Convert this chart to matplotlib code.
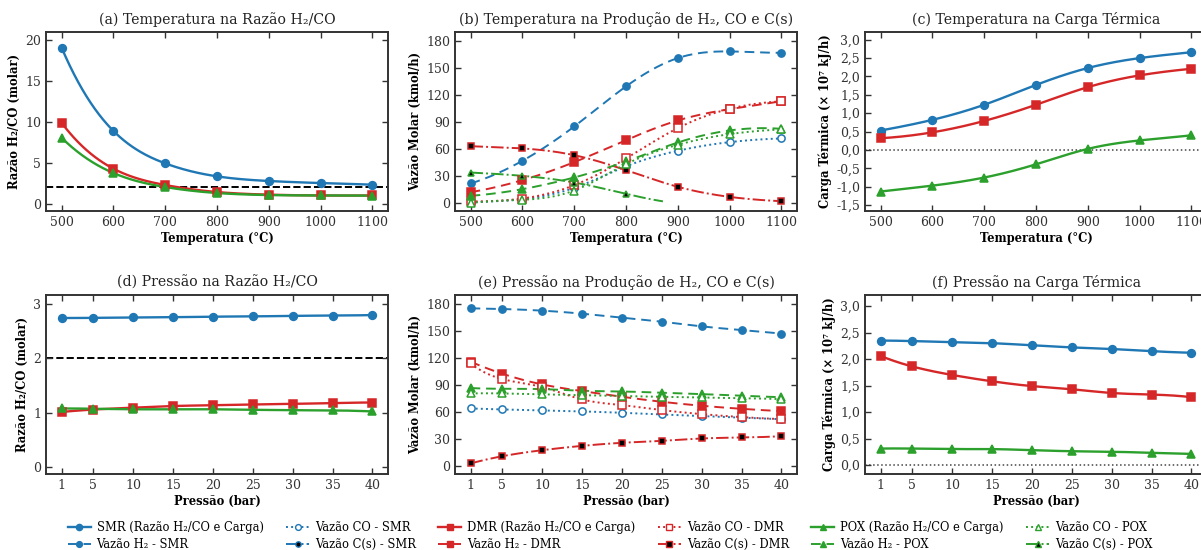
import numpy as np
import matplotlib
matplotlib.use("Agg")
import matplotlib.pyplot as plt
from matplotlib.ticker import FuncFormatter

plt.rcParams['font.family'] = ['DejaVu Serif', 'DejaVu Sans']
plt.rcParams['mathtext.fontset'] = 'dejavuserif'

# ---------------- data ----------------
temp = [500, 600, 700, 800, 900, 1000, 1100]
pres = [1, 5, 10, 15, 20, 25, 30, 35, 40]

# (a) H2/CO ratio vs temperature
ratio_T_smr = [19.1, 8.9, 4.93, 3.34, 2.77, 2.52, 2.32]
ratio_T_dmr = [9.9, 4.28, 2.28, 1.42, 1.10, 1.00, 1.00]
ratio_T_pox = [8.07, 3.75, 2.03, 1.30, 1.05, 1.00, 0.98]

# (b) molar flow vs temperature
h2_T_smr = [21.9, 47.1, 85.3, 129.9, 161.4, 168.8, 167.3]
co_T_smr = [1.0, 4.5, 17.0, 41.0, 58.3, 67.9, 72.0]
cs_T_smr = [0, 0, 0, 0, 0, 0, 0]
h2_T_dmr = [12.2, 25.6, 45.6, 70.1, 92.0, 104.6, 113.5]
co_T_dmr = [2.0, 5.2, 20.0, 49.7, 83.5, 105.0, 113.2]
cs_T_dmr = [63.4, 60.9, 53.4, 36.7, 18.2, 7.0, 2.2]
h2_T_pox = [8.2, 15.6, 28.6, 46.4, 67.5, 80.9, 82.7]
co_T_pox = [0.0, 3.7, 14.1, 43.4, 65.0, 76.8, 82.0]
cs_T_pox = [34.1, 30.4, 23.0, 10.4, 0, 0, 0]

# (c) thermal load vs temperature (x 1e7 kJ/h)
load_T_smr = [0.53, 0.82, 1.23, 1.77, 2.23, 2.50, 2.66]
load_T_dmr = [0.32, 0.48, 0.79, 1.23, 1.71, 2.03, 2.21]
load_T_pox = [-1.13, -0.97, -0.75, -0.39, 0.03, 0.26, 0.40]

# (d) H2/CO ratio vs pressure
ratio_P_smr = [2.745, 2.748, 2.755, 2.76, 2.77, 2.775, 2.785, 2.79, 2.80]
ratio_P_dmr = [1.01, 1.055, 1.09, 1.12, 1.135, 1.15, 1.16, 1.175, 1.185]
ratio_P_pox = [1.075, 1.07, 1.06, 1.06, 1.06, 1.05, 1.045, 1.04, 1.02]

# (e) molar flow vs pressure
h2_P_smr = [175.6, 174.8, 173.0, 169.6, 165.2, 160.7, 155.5, 151.4, 147.4]
co_P_smr = [64.2, 63.1, 62.0, 60.9, 59.4, 57.5, 55.7, 53.8, 52.3]
cs_P_smr = [0, 0, 0, 0, 0, 0, 0, 0, 0]
h2_P_dmr = [116.2, 102.8, 90.9, 83.5, 77.2, 71.6, 67.2, 63.8, 61.2]
co_P_dmr = [114.3, 96.9, 88.0, 74.2, 67.9, 62.4, 57.9, 54.6, 52.3]
cs_P_dmr = [3.0, 11.1, 17.8, 22.6, 26.0, 28.2, 30.8, 31.9, 33.4]
h2_P_pox = [86.9, 86.1, 85.7, 83.9, 83.1, 81.7, 80.2, 78.3, 76.8]
co_P_pox = [80.9, 80.9, 79.8, 79.0, 78.0, 77.2, 76.5, 75.7, 74.6]
cs_P_pox = [0, 0, 0, 0, 0, 0, 0, 0, 0]

# (f) thermal load vs pressure
load_P_smr = [2.35, 2.34, 2.32, 2.30, 2.26, 2.22, 2.19, 2.15, 2.12]
load_P_dmr = [2.06, 1.86, 1.70, 1.58, 1.49, 1.43, 1.36, 1.33, 1.28]
load_P_pox = [0.31, 0.31, 0.30, 0.30, 0.28, 0.26, 0.25, 0.23, 0.21]

ratio_target = 2.0

# ---------------- helpers ----------------
C_SMR, C_DMR, C_POX = '#1f77b4', '#d62728', '#2ca02c'


def spline(x, y, n=300):
    """not-a-knot cubic spline through the points (for drawing smooth lines)"""
    x = np.asarray(x, float)
    y = np.asarray(y, float)
    m = len(x)
    h = np.diff(x)
    A = np.zeros((m, m))
    b = np.zeros(m)
    for i in range(1, m - 1):
        A[i, i - 1] = h[i - 1]
        A[i, i] = 2 * (h[i - 1] + h[i])
        A[i, i + 1] = h[i]
        b[i] = 6 * ((y[i + 1] - y[i]) / h[i] - (y[i] - y[i - 1]) / h[i - 1])
    A[0, 0], A[0, 1], A[0, 2] = h[1], -(h[0] + h[1]), h[0]
    A[-1, -3], A[-1, -2], A[-1, -1] = h[-1], -(h[-2] + h[-1]), h[-2]
    M = np.linalg.solve(A, b)
    xs = np.linspace(x[0], x[-1], n)
    idx = np.clip(np.searchsorted(x, xs) - 1, 0, m - 2)
    x0, x1 = x[idx], x[idx + 1]
    hi = h[idx]
    ys = (M[idx] * (x1 - xs) ** 3 + M[idx + 1] * (xs - x0) ** 3) / (6 * hi) \
        + (y[idx] / hi - M[idx] * hi / 6) * (x1 - xs) \
        + (y[idx + 1] / hi - M[idx + 1] * hi / 6) * (xs - x0)
    return xs, ys


def draw(ax, x, y, color, ls, marker, mfc, ms, lw, mask_zero=False):
    xs, ys = spline(x, y)
    x = np.asarray(x, float)
    y = np.asarray(y, float)
    if mask_zero:
        bad = np.cumsum(ys <= 2.0) > 0
        ys = np.where(bad, np.nan, ys)
        y = np.where(y > 0, y, np.nan)
    ax.plot(xs, ys, color=color, ls=ls, lw=lw, zorder=2)
    ax.plot(x, y, ls='none', marker=marker, mfc=mfc, mec=color,
            ms=ms, mew=1.1, zorder=3)
    return plt.Line2D([], [], color=color, ls=ls, lw=lw, marker=marker,
                      mfc=mfc, mec=color, ms=ms, mew=1.0)


def style_axes(ax):
    ax.tick_params(direction='in', top=True, right=True, labelsize=9,
                   colors='#333333', length=4, width=1.0)
    ax.xaxis.labelpad = 2
    ax.yaxis.labelpad = 3
    for s in ax.spines.values():
        s.set_linewidth(1.4)
        s.set_color('#333333')


comma = FuncFormatter(lambda v, p: f'{v:.1f}'.replace('.', ','))

fig = plt.figure(figsize=(12.01, 5.5), dpi=100)
W, H = 342 / 1201, 179 / 550
lefts = [46 / 1201, 455 / 1201, 865 / 1201]
bots = [1 - 211 / 550, 1 - 474 / 550]
axs = [[fig.add_axes([l, b, W, H]) for l in lefts] for b in bots]
ax_a, ax_b, ax_c = axs[0]
ax_d, ax_e, ax_f = axs[1]

title_kw = dict(fontsize=10.2, color='#222222')
lab_kw = dict(fontsize=8.3, fontweight='bold')

# main (solid) series
for ax, x, ys in [(ax_a, temp, (ratio_T_smr, ratio_T_dmr, ratio_T_pox)),
                  (ax_c, temp, (load_T_smr, load_T_dmr, load_T_pox)),
                  (ax_d, pres, (ratio_P_smr, ratio_P_dmr, ratio_P_pox)),
                  (ax_f, pres, (load_P_smr, load_P_dmr, load_P_pox))]:
    h_smr = draw(ax, x, ys[0], C_SMR, '-', 'o', C_SMR, 5.6, 1.7)
    h_dmr = draw(ax, x, ys[1], C_DMR, '-', 's', C_DMR, 5.6, 1.7)
    h_pox = draw(ax, x, ys[2], C_POX, '-', '^', C_POX, 5.6, 1.7)

# flow panels
fh = {}
for ax, x, series in [
    (ax_b, temp, [(h2_T_smr, co_T_smr, cs_T_smr), (h2_T_dmr, co_T_dmr, cs_T_dmr), (h2_T_pox, co_T_pox, cs_T_pox)]),
    (ax_e, pres, [(h2_P_smr, co_P_smr, cs_P_smr), (h2_P_dmr, co_P_dmr, cs_P_dmr), (h2_P_pox, co_P_pox, cs_P_pox)])]:
    for (h2, co, cs), col, mk, nm in zip(series, [C_SMR, C_DMR, C_POX], ['o', 's', '^'], ['SMR', 'DMR', 'POX']):
        fh[('h2', nm)] = draw(ax, x, h2, col, (0, (5, 3)), mk, col, 5.2, 1.4)
        fh[('co', nm)] = draw(ax, x, co, col, ':', mk, 'white', 5.2, 1.4)
        fh[('cs', nm)] = draw(ax, x, cs, col, '-.', mk, 'black', 4.8, 1.4, mask_zero=True)

# reference lines
for ax in (ax_a, ax_d):
    ax.axhline(ratio_target, color='black', ls='--', lw=1.4, zorder=1)
for ax in (ax_c, ax_f):
    ax.axhline(0, color='#444444', ls=':', lw=1.1, zorder=1)

# axes setup
for ax in (ax_a, ax_b, ax_c):
    ax.set_xticks(temp)
    ax.set_xlim(470, 1130)
    ax.set_xlabel('Temperatura (°C)', **lab_kw)
for ax in (ax_d, ax_e, ax_f):
    ax.set_xticks(pres)
    ax.set_xlim(-0.95, 41.95)
    ax.set_xlabel('Pressão (bar)', **lab_kw)

ax_a.set_ylim(-0.9, 21.0)
ax_a.set_yticks([0, 5, 10, 15, 20])
ax_d.set_ylim(-0.135, 3.17)
ax_d.set_yticks([0, 1, 2, 3])
for ax in (ax_b, ax_e):
    ax.set_ylim(-8.7, 190.4)
    ax.set_yticks([0, 30, 60, 90, 120, 150, 180])
ax_c.set_ylim(-1.66, 3.21)
ax_c.set_yticks([-1.5, -1.0, -0.5, 0.0, 0.5, 1.0, 1.5, 2.0, 2.5, 3.0])
ax_f.set_ylim(-0.17, 3.21)
ax_f.set_yticks([0.0, 0.5, 1.0, 1.5, 2.0, 2.5, 3.0])
for ax in (ax_c, ax_f):
    ax.yaxis.set_major_formatter(comma)

for ax in (ax_a, ax_d):
    ax.set_ylabel('Razão H₂/CO (molar)', **lab_kw)
for ax in (ax_b, ax_e):
    ax.set_ylabel('Vazão Molar (kmol/h)', **lab_kw)
for ax in (ax_c, ax_f):
    ax.set_ylabel('Carga Térmica (× 10⁷ kJ/h)', **lab_kw)

ax_a.set_title('(a) Temperatura na Razão H₂/CO', **title_kw)
ax_b.set_title('(b) Temperatura na Produção de H₂, CO e C(s)', **title_kw)
ax_c.set_title('(c) Temperatura na Carga Térmica', **title_kw)
ax_d.set_title('(d) Pressão na Razão H₂/CO', **title_kw)
ax_e.set_title('(e) Pressão na Produção de H₂, CO e C(s)', **title_kw)
ax_f.set_title('(f) Pressão na Carga Térmica', **title_kw)

for row in axs:
    for ax in row:
        style_axes(ax)

handles = [h_smr, fh[('h2', 'SMR')], fh[('co', 'SMR')], fh[('cs', 'SMR')],
           h_dmr, fh[('h2', 'DMR')], fh[('co', 'DMR')], fh[('cs', 'DMR')],
           h_pox, fh[('h2', 'POX')], fh[('co', 'POX')], fh[('cs', 'POX')]]
labels = ['SMR (Razão H₂/CO e Carga)', 'Vazão H₂ - SMR', 'Vazão CO - SMR', 'Vazão C(s) - SMR',
          'DMR (Razão H₂/CO e Carga)', 'Vazão H₂ - DMR', 'Vazão CO - DMR', 'Vazão C(s) - DMR',
          'POX (Razão H₂/CO e Carga)', 'Vazão H₂ - POX', 'Vazão CO - POX', 'Vazão C(s) - POX']
fig.legend(handles, labels, loc='lower center', bbox_to_anchor=(0.508, -0.02), ncol=6,
           frameon=False, fontsize=8.3, handlelength=2.0, columnspacing=1.95,
           handletextpad=0.5, labelspacing=0.3, markerscale=0.8)

fig.savefig('out.png', dpi=100)
